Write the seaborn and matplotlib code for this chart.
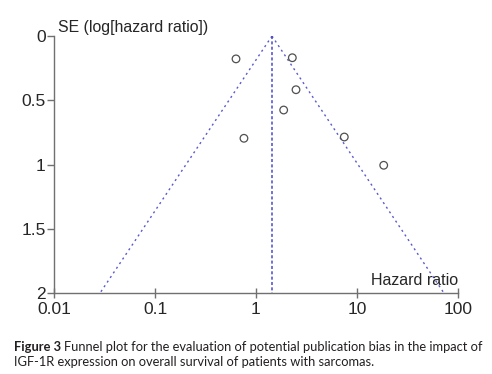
import numpy as np
import pandas as pd
import matplotlib
matplotlib.use('Agg')
import matplotlib.pyplot as plt
import seaborn as sns

# Datos
hazard_ratio = [0.634, 2.29, 2.49, 1.88, 0.76, 7.49, 18.4]
se_log_hr = [0.178, 0.169, 0.418, 0.576, 0.796, 0.786, 1.006]
pooled_hr = 1.44
se_range = [0.0, 2.0]

x_ticks = [0.01, 0.1, 1, 10, 100]
x_tick_labels = ['0.01', '0.1', '1', '10', '100']
y_ticks = [0, 0.5, 1, 1.5, 2]
y_tick_labels = ['0', '0.5', '1', '1.5', '2']

df = pd.DataFrame({'hr': hazard_ratio, 'se': se_log_hr})

# Lineas del embudo (IC 95%)
se_arr = np.array(se_range)
left_x = np.exp(np.log(pooled_hr) - 1.96 * se_arr)
right_x = np.exp(np.log(pooled_hr) + 1.96 * se_arr)

sns.set_style('white')
plt.rcParams['font.family'] = ['Liberation Sans', 'DejaVu Sans']

fig = plt.figure(figsize=(4.92, 3.74), dpi=100)
ax = fig.add_axes([0.1098, 0.2166, 0.821, 0.6871])

line_color = '#5a5ad0'
ax.plot(left_x, se_arr, color=line_color, lw=1.0, ls=(0, (1.5, 2.5)))
ax.plot(right_x, se_arr, color=line_color, lw=1.0, ls=(0, (1.5, 2.5)))
ax.plot([pooled_hr, pooled_hr], se_range, color='#4a4ac8', lw=1.1, ls=(0, (2, 1.5)))

sns.scatterplot(data=df, x='hr', y='se', ax=ax, s=30, marker='o',
                facecolors='none', edgecolor='#505050', linewidth=0.9, zorder=3)

ax.set_xscale('log')
ax.set_xlim(0.01, 100)
ax.set_ylim(2, 0)
ax.set_xticks(x_ticks)
ax.set_xticklabels(x_tick_labels)
ax.set_yticks(y_ticks)
ax.set_yticklabels(y_tick_labels)
ax.minorticks_off()
ax.set_xlabel('')
ax.set_ylabel('')

for s in ['top', 'right']:
    ax.spines[s].set_visible(False)
for s in ['left', 'bottom']:
    ax.spines[s].set_color('#707070')
    ax.spines[s].set_linewidth(1.0)

ax.tick_params(axis='y', direction='out', length=5, width=1, color='#707070',
               labelsize=12.5, pad=1, left=True)
ax.tick_params(axis='x', direction='inout', length=7, width=1, color='#707070',
               labelsize=12.5, pad=3, bottom=True)

ax.text(0.01, 1.005, 'SE (log[hazard ratio])', transform=ax.transAxes,
        fontsize=11.4, ha='left', va='bottom')
ax.text(1.0, 0.02, 'Hazard ratio', transform=ax.transAxes,
        fontsize=11.5, ha='right', va='bottom')

# Pie de figura
cap_font = ['Lato', 'DejaVu Sans']
cap_size = 9.3
t1 = fig.text(0.028, 1 - 347 / 374, 'Figure 3', fontsize=cap_size, fontweight='bold',
              family=cap_font, color='#231f20', va='center')
fig.canvas.draw()
bb = t1.get_window_extent()
x_next = (bb.x1 + 3) / fig.bbox.width
fig.text(x_next, 1 - 347 / 374,
         'Funnel plot for the evaluation of potential publication bias in the impact of',
         fontsize=cap_size, family=cap_font, color='#231f20', va='center')
fig.text(0.028, 1 - 362 / 374,
         'IGF-1R expression on overall survival of patients with sarcomas.',
         fontsize=cap_size, family=cap_font, color='#231f20', va='center')

fig.savefig('out.png', dpi=100)
